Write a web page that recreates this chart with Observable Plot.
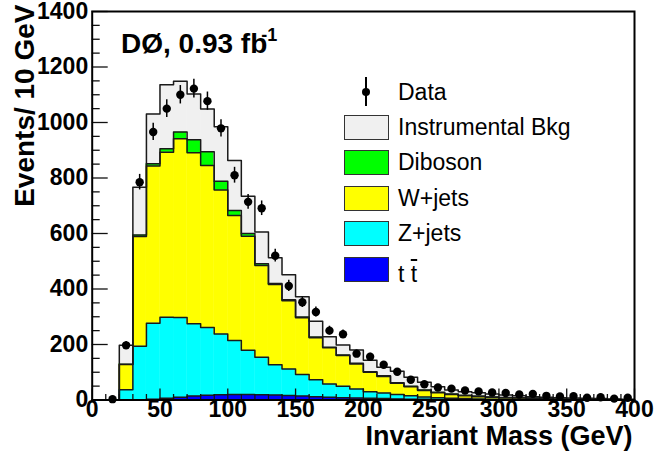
<!DOCTYPE html>
<html><head><meta charset="utf-8">
<script src="https://cdn.jsdelivr.net/npm/d3@7"></script>
<script src="https://cdn.jsdelivr.net/npm/@observablehq/plot@0.6"></script>
<style>
body{margin:0;background:#fff;}
#wrap{position:relative;width:657px;height:455px;font-family:"Liberation Sans",Arial,Helvetica,sans-serif;color:#000;}
.abs{position:absolute;}
.lbox{position:absolute;left:344px;width:43px;height:23px;border:1px solid #333;}
.ltxt{position:absolute;left:398px;height:24px;line-height:24px;font-size:23px;white-space:nowrap;}
#title{position:absolute;left:121px;top:30px;font-size:28px;font-weight:bold;line-height:28px;white-space:nowrap;}
#title sup{font-size:18px;position:relative;top:-9px;vertical-align:top;margin-left:-6px;}
</style></head><body><div id="wrap"></div>
<script>
// 10 GeV bins, lower edges 0..390
const binLow = d3.range(0, 400, 10);
// stacked background contributions (events / 10 GeV), bottom to top
const ttbar   = [0,0,0,1,3,6,10,14,17,19,20,20,19,18,16,14,12,10,8,7,6,5,4,3,3,2,2,1,1,1,1,1,0,0,0,0,0,0,0,0];
const zjets   = [0,0,37,193,274,292,287,261,244,219,194,159,135,109,96,78,61,48,42,33,24,20,16,12,8,6,4,4,3,2,2,1,2,1,1,1,1,1,0,0];
const wjets   = [0,0,91,395,566,595,644,616,584,519,451,411,331,289,246,204,151,130,110,90,70,60,40,33,23,18,14,10,8,7,5,5,4,3,2,2,1,1,1,1];
const diboson = [0,0,1,6,8,12,25,47,50,31,18,10,6,4,3,3,3,2,2,2,2,2,2,2,2,2,2,2,2,1,1,1,1,1,1,0,1,0,1,0];
const instr   = [0,0,68,172,180,231,183,165,154,197,180,134,114,93,90,73,57,38,36,48,41,31,42,32,28,20,14,13,12,11,9,7,5,5,4,4,3,3,2,2];
// observed data
const dataCounts = [null,3,197,785,966,1050,1100,1122,1077,979,810,714,691,520,411,352,317,250,237,167,156,127,102,73,57,45,41,34,31,27,25,20,22,15,13,14,8,10,5,8];
// axis ticks
const xMajor = [0,50,100,150,200,250,300,350,400];
const xMinor = d3.range(0, 401, 10).filter(v => v % 50 !== 0);
const yMajor = [0,200,400,600,800,1000,1200,1400];
const yMinor = d3.range(0, 1401, 50).filter(v => v % 200 !== 0);

const layers = ["t t̄","Z+jets","W+jets","Diboson","Instrumental Bkg"];
const colors = ["#0000ff","#00ffff","#ffff00","#00ff00","#f0f0f0"];
const series = [ttbar, zjets, wjets, diboson, instr];

const W = 657, H = 455, ml = 91.7, mr = 23, mt = 11, mb = 55.5;
const fw = W - ml - mr, fh = H - mt - mb;

const rects = [], tops = [];
const cum = binLow.map(() => 0);
series.forEach((vals, li) => {
  vals.forEach((v, i) => {
    const y1 = cum[i], y2 = cum[i] + v;
    cum[i] = y2;
    if (v > 0) rects.push({layer: layers[li], x1: binLow[i], x2: binLow[i] + 10, y1, y2});
  });
  cum.forEach((c, i) => tops.push({layer: layers[li], x: binLow[i], y: c}));
  tops.push({layer: layers[li], x: 400, y: 0});
});
const dataRows = dataCounts.map((v, i) => ({x: binLow[i] + 5, v})).filter(d => d.v != null);

const chart = Plot.plot({
  width: W, height: H,
  marginLeft: ml, marginRight: mr, marginTop: mt, marginBottom: mb,
  x: {domain: [0, 400]},
  y: {domain: [0, 1400]},
  color: {domain: layers, range: colors},
  style: {fontFamily: '"Liberation Sans", Arial, Helvetica, sans-serif', background: "white", color: "black", overflow: "visible"},
  marks: [
    Plot.rect(rects, {x1: "x1", x2: "x2", y1: "y1", y2: "y2", fill: "layer", stroke: "layer", strokeWidth: 0.4}),
    Plot.line(tops, {x: "x", y: "y", z: "layer", curve: "step-after", stroke: "#1a1a1a", strokeWidth: 1.5}),
    Plot.ruleY(yMajor, {stroke: "#111", strokeWidth: 1.3, insetRight: fw - 16}),
    Plot.ruleY(yMinor, {stroke: "#111", strokeWidth: 1.3, insetRight: fw - 8}),
    Plot.ruleX(xMajor, {stroke: "#111", strokeWidth: 1.3, insetTop: fh - 11}),
    Plot.ruleX(xMinor, {stroke: "#111", strokeWidth: 1.3, insetTop: fh - 5.5}),
    Plot.ruleX(dataRows, {x: "x", y1: d => d.v - Math.sqrt(d.v), y2: d => d.v + Math.sqrt(d.v), stroke: "black", strokeWidth: 1.5}),
    Plot.dot(dataRows, {x: "x", y: "v", r: 4.2, fill: "black", stroke: null}),
    Plot.frame({stroke: "black", strokeWidth: 2}),
    Plot.axisY(yMajor, {tickSize: 0, tickPadding: 4, fontSize: 23, fontWeight: "bold", label: null, tickFormat: d3.format("d")}),
    Plot.axisX(xMajor, {tickSize: 0, tickPadding: 1, fontSize: 23, fontWeight: "bold", label: null, tickFormat: d3.format("d")}),
    Plot.text(["Invariant Mass (GeV)"], {frameAnchor: "bottom-right", textAnchor: "end", lineAnchor: "middle", dx: -2, dy: 36, fontSize: 27, fontWeight: "bold"}),
    Plot.text(["Events/ 10 GeV"], {frameAnchor: "top-left", rotate: -90, textAnchor: "end", lineAnchor: "middle", dx: -67, dy: -7, fontSize: 28, fontWeight: "bold"})
  ]
});
const wrap = document.getElementById("wrap");
wrap.appendChild(chart);

// title
const title = document.createElement("div");
title.id = "title";
title.innerHTML = "DØ, 0.93 fb<sup>-1</sup>";
wrap.appendChild(title);

// legend
const legendRows = [
  {label: "Data", cy: 92, kind: "data"},
  {label: "Instrumental Bkg", cy: 127, fill: colors[4]},
  {label: "Diboson", cy: 162, fill: colors[3]},
  {label: "W+jets", cy: 198, fill: colors[2]},
  {label: "Z+jets", cy: 233, fill: colors[1]},
  {label: "t t̄", cy: 269, fill: colors[0]}
];
legendRows.forEach(r => {
  if (r.kind === "data") {
    const bar = document.createElement("div");
    bar.className = "abs";
    Object.assign(bar.style, {left: "365px", top: (r.cy - 15) + "px", width: "1.5px", height: "29px", background: "#000"});
    wrap.appendChild(bar);
    const dot = document.createElement("div");
    dot.className = "abs";
    Object.assign(dot.style, {left: "361.7px", top: (r.cy - 4.2) + "px", width: "8.4px", height: "8.4px", borderRadius: "50%", background: "#000"});
    wrap.appendChild(dot);
  } else {
    const box = document.createElement("div");
    box.className = "lbox";
    box.style.top = (r.cy - 12) + "px";
    box.style.background = r.fill;
    wrap.appendChild(box);
  }
  const t = document.createElement("div");
  t.className = "ltxt";
  t.style.top = (r.cy - 12 + (r.label === "t t̄" ? 5 : 0)) + "px";
  if (r.label === "t t̄") {
    t.innerHTML = 't <span style="text-decoration:overline">t</span>';
  } else t.textContent = r.label;
  wrap.appendChild(t);
});
</script>
</body></html>
